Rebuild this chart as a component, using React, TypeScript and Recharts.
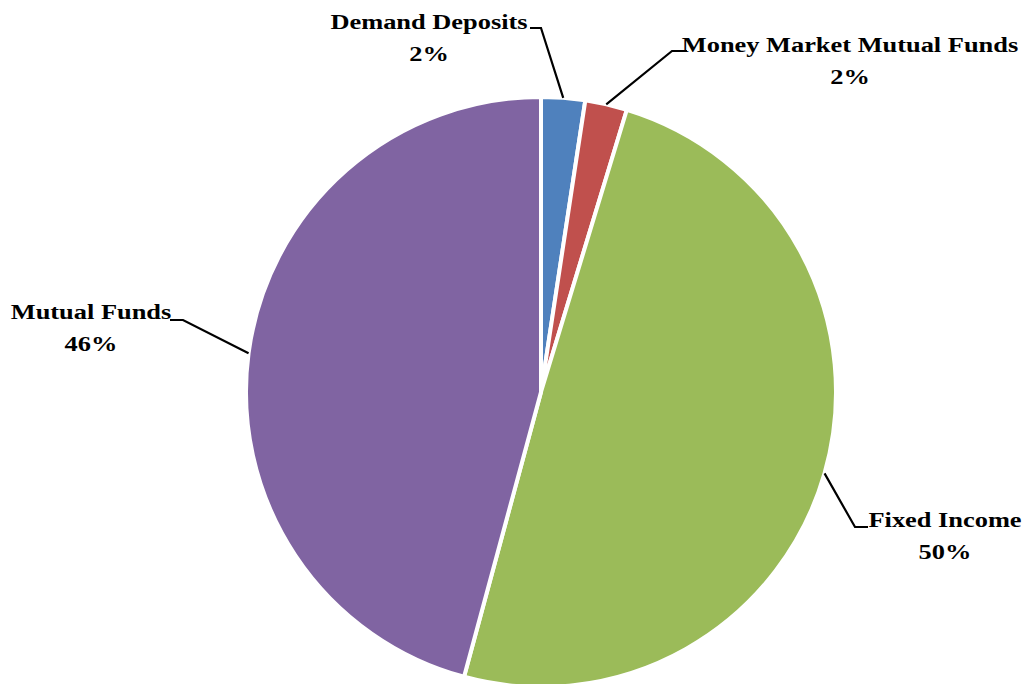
import { PieChart, Pie, Cell } from "recharts";

const categories = [
  "Demand Deposits",
  "Money Market Mutual Funds",
  "Fixed Income",
  "Mutual Funds",
];
const shares = [2.4, 2.3, 49.5, 45.8];
const colors = ["#4F81BD", "#C0504D", "#9BBB59", "#8064A2"];

// where each label sits and where its leader line bends (page px)
const labelLayout = [
  { x: 429, y: 29, elbow: [541, 28], end: [530, 28] },
  { x: 850, y: 52, elbow: [672, 51], end: [687, 51] },
  { x: 945, y: 527, elbow: [855, 527], end: [868, 527] },
  { x: 91, y: 319, elbow: [183, 320], end: [170, 320] },
];

const data = categories.map((name, i) => ({ name, value: shares[i] }));
const total = shares.reduce((a, b) => a + b, 0);

const RAD = Math.PI / 180;

const renderLabel = (props: any) => {
  const { cx, cy, midAngle, outerRadius, index, value } = props;
  const ax = cx + outerRadius * Math.cos(-midAngle * RAD);
  const ay = cy + outerRadius * Math.sin(-midAngle * RAD);
  const lay = labelLayout[index];
  const pct = Math.round((value / total) * 100) + "%";
  const textStyle = {
    fontFamily: "'Liberation Serif', 'Times New Roman', serif",
    fontWeight: 700,
    fontSize: 22,
    fill: "#000",
  };
  return (
    <g key={"lbl" + index}>
      <polyline
        points={`${ax},${ay} ${lay.elbow[0]},${lay.elbow[1]} ${lay.end[0]},${lay.end[1]}`}
        fill="none"
        stroke="#000"
        strokeWidth={2.2}
      />
      <g transform={`translate(${lay.x},${lay.y}) scale(1.2,1)`}>
        <text x={0} y={0} textAnchor="middle" style={textStyle}>
          {categories[index]}
        </text>
        <text x={0} y={32} textAnchor="middle" style={textStyle}>
          {pct}
        </text>
      </g>
    </g>
  );
};

export default function App() {
  return (
    <div style={{ position: "absolute", left: 0, top: 0, background: "#fff" }}>
      <PieChart
        width={1029}
        height={684}
        margin={{ top: 0, right: 0, bottom: 0, left: 0 }}
      >
        <Pie
          data={data}
          dataKey="value"
          nameKey="name"
          cx={541}
          cy={392}
          outerRadius={295}
          startAngle={90}
          endAngle={-270}
          stroke="#fff"
          strokeWidth={4}
          label={renderLabel}
          labelLine={false}
          isAnimationActive={false}
        >
          {data.map((d, i) => (
            <Cell key={d.name} fill={colors[i]} />
          ))}
        </Pie>
      </PieChart>
    </div>
  );
}
